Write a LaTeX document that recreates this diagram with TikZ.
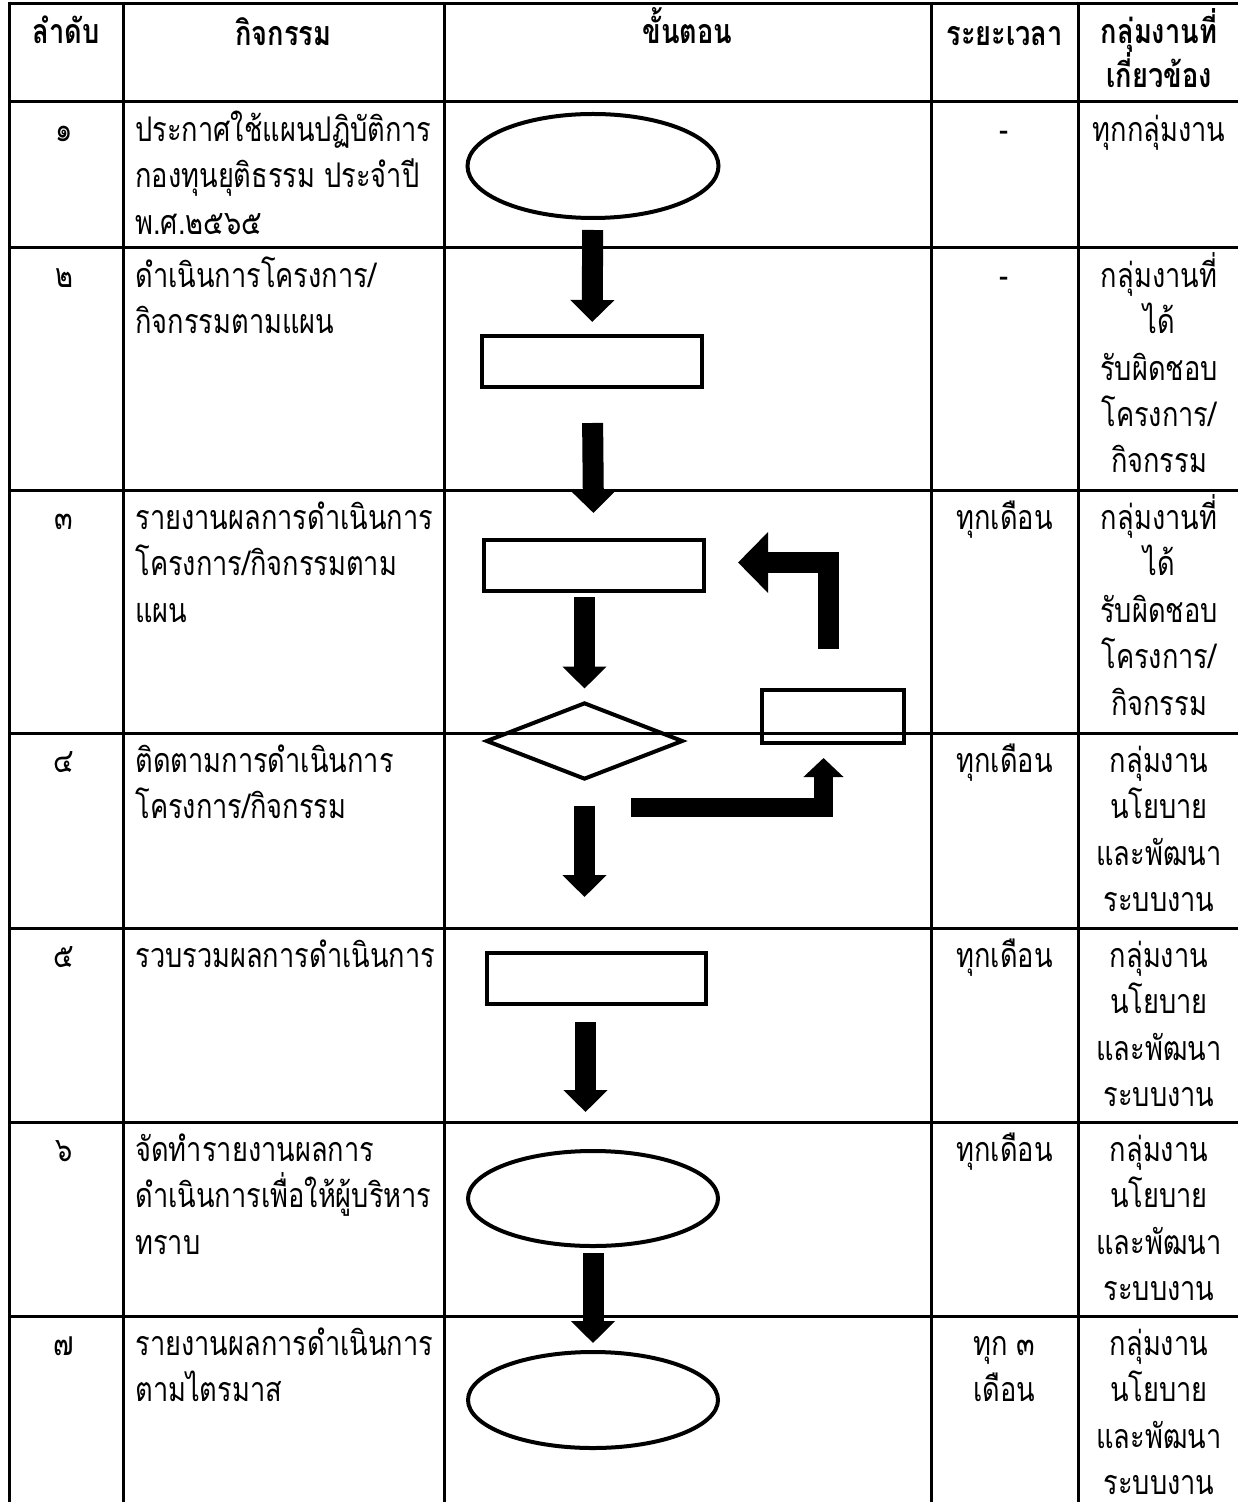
\documentclass[tikz,border=0pt]{standalone}
\usepackage{fontspec}
\newfontfamily\thaifont[Script=Thai, FakeStretch=0.8]{Loma}
\newcommand{\firstline}{\rule{0pt}{19.5pt}}
\usetikzlibrary{arrows.meta,shapes.geometric}

\begin{document}
\begin{tikzpicture}[x=0.5pt, y=-0.5pt]
            \tikzstyle{tableline} = [line width=1.5pt, line cap=rect]
            \tikzstyle{oval} = [ellipse, draw, line width=2pt, inner sep=0pt]
            \tikzstyle{box} = [rectangle, draw, line width=2pt, inner sep=0pt]
            \tikzstyle{decide} = [diamond, draw, line width=2pt, inner sep=0pt]
            \tikzstyle{flow} = [line width=10.5pt, -{Triangle[width=21.5pt, length=11pt]}]
            \tikzstyle{head} = [font=\thaifont\bfseries\fontsize{17}{22}\selectfont, anchor=north, align=center, inner sep=0pt]
            \tikzstyle{cell} = [font=\thaifont\fontsize{17}{23.2}\selectfont, anchor=north, align=center, inner sep=0pt]
            \tikzstyle{text cell} = [cell, anchor=north west, align=left]
            \useasboundingbox (0, 0) rectangle (1237, 1502);

            \draw[tableline] (9, 4) -- (1245, 4);
            \draw[tableline] (9, 102) -- (1245, 102);
            \draw[tableline] (9, 248) -- (1245, 248);
            \draw[tableline] (9, 490) -- (1245, 490);
            \draw[tableline] (9, 733) -- (1245, 733);
            \draw[tableline] (9, 928) -- (1245, 928);
            \draw[tableline] (9, 1122) -- (1245, 1122);
            \draw[tableline] (9, 1316) -- (1245, 1316);
            \draw[tableline] (9, 4) -- (9, 1510);
            \draw[tableline] (123, 4) -- (123, 1510);
            \draw[tableline] (444, 4) -- (444, 1510);
            \draw[tableline] (931, 4) -- (931, 1510);
            \draw[tableline] (1078, 4) -- (1078, 1510);

            \node[head] (h1) at (66, 4) {\firstline ลำดับ};
            \node[head] (h2) at (283.5, 6) {\firstline กิจกรรม};
            \node[head] (h3) at (687.5, 4) {\firstline ขั้นตอน};
            \node[head] (h4) at (1004.5, 6) {\firstline ระยะเวลา};
            \node[head] (h5) at (1159, 4) {\firstline กลุ่มงานที่\\เกี่ยวข้อง};

            \node[cell] (n1) at (64, 102) {\firstline ๑};
            \node[cell] (n2) at (64, 248) {\firstline ๒};
            \node[cell] (n3) at (64, 490) {\firstline ๓};
            \node[cell] (n4) at (64, 733) {\firstline ๔};
            \node[cell] (n5) at (64, 928) {\firstline ๕};
            \node[cell] (n6) at (64, 1122) {\firstline ๖};
            \node[cell] (n7) at (64, 1316) {\firstline ๗};

            \node[text cell] (a1) at (135, 102) {\firstline ประกาศใช้แผนปฏิบัติการ\\กองทุนยุติธรรม ประจำปี\\พ.ศ.๒๕๖๕};
            \node[text cell] (a2) at (135, 248) {\firstline ดำเนินการโครงการ/\\กิจกรรมตามแผน};
            \node[text cell] (a3) at (135, 490) {\firstline รายงานผลการดำเนินการ\\โครงการ/กิจกรรมตาม\\แผน};
            \node[text cell] (a4) at (135, 733) {\firstline ติดตามการดำเนินการ\\โครงการ/กิจกรรม};
            \node[text cell] (a5) at (135, 928) {\firstline รวบรวมผลการดำเนินการ};
            \node[text cell] (a6) at (135, 1122) {\firstline จัดทำรายงานผลการ\\ดำเนินการเพื่อให้ผู้บริหาร\\ทราบ};
            \node[text cell] (a7) at (135, 1316) {\firstline รายงานผลการดำเนินการ\\ตามไตรมาส};

            \node[cell] (t1) at (1004.5, 102) {\firstline -};
            \node[cell] (t2) at (1004.5, 248) {\firstline -};
            \node[cell] (t3) at (1004.5, 490) {\firstline ทุกเดือน};
            \node[cell] (t4) at (1004.5, 733) {\firstline ทุกเดือน};
            \node[cell] (t5) at (1004.5, 928) {\firstline ทุกเดือน};
            \node[cell] (t6) at (1004.5, 1122) {\firstline ทุกเดือน};
            \node[cell] (t7) at (1004.5, 1316) {\firstline ทุก ๓\\เดือน};

            \node[cell] (g1) at (1159, 102) {\firstline ทุกกลุ่มงาน};
            \node[cell] (g2) at (1159, 248) {\firstline กลุ่มงานที่\\ได้\\รับผิดชอบ\\โครงการ/\\กิจกรรม};
            \node[cell] (g3) at (1159, 490) {\firstline กลุ่มงานที่\\ได้\\รับผิดชอบ\\โครงการ/\\กิจกรรม};
            \node[cell] (g4) at (1159, 733) {\firstline กลุ่มงาน\\นโยบาย\\และพัฒนา\\ระบบงาน};
            \node[cell] (g5) at (1159, 928) {\firstline กลุ่มงาน\\นโยบาย\\และพัฒนา\\ระบบงาน};
            \node[cell] (g6) at (1159, 1122) {\firstline กลุ่มงาน\\นโยบาย\\และพัฒนา\\ระบบงาน};
            \node[cell] (g7) at (1159, 1316) {\firstline กลุ่มงาน\\นโยบาย\\และพัฒนา\\ระบบงาน};

            \node[oval, minimum width=125.5pt, minimum height=52pt] (start) at (593, 166) {};
            \node[box, minimum width=110pt, minimum height=25.5pt] (run) at (592, 361.5) {};
            \node[box, minimum width=110pt, minimum height=25.5pt] (report) at (594, 565.5) {};
            \node[decide, minimum width=98.5pt, minimum height=38.5pt] (check) at (584.5, 741) {};
            \node[box, minimum width=71pt, minimum height=26.5pt] (fix) at (833, 716.5) {};
            \node[box, minimum width=109.5pt, minimum height=25.5pt] (collect) at (596.5, 978.5) {};
            \node[oval, minimum width=125pt, minimum height=47.5pt] (brief) at (593, 1198.5) {};
            \node[oval, minimum width=125pt, minimum height=48pt] (quarter) at (593, 1400) {};
            \coordinate (fork) at (631, 807.5);

            \draw[flow, shorten <=5pt, shorten >=6pt] (start) -- (run);
            \draw[flow, shorten <=17pt, shorten >=12.5pt] (run) -- (report);
            \draw[flow, shorten <=2pt, shorten >=6pt] (report.south -| check.north) -- (check.north);
            \draw[flow, shorten <=12pt, shorten >=27pt] (check.south) -- (check.south |- collect.north);
            \draw[flow, shorten <=8pt, shorten >=18.5pt] ([xshift=-5.5pt]collect.south) -- ([xshift=-5.5pt]collect.south |- brief.north);
            \draw[flow, shorten <=2.5pt, shorten >=3.5pt] (brief) -- (quarter);
            \draw[line width=9.5pt, -{Triangle[width=19.5pt, length=9.5pt]}, shorten >=6.5pt] (fork) -| ([xshift=-4.75pt]fix.south);
            \draw[line width=10.5pt, -{Triangle[width=29.5pt, length=15pt]}, shorten <=19.5pt, shorten >=16pt] ([xshift=-2.25pt]fix.north) |- ([yshift=1.5pt]report.east);
        \end{tikzpicture}
\end{document}
